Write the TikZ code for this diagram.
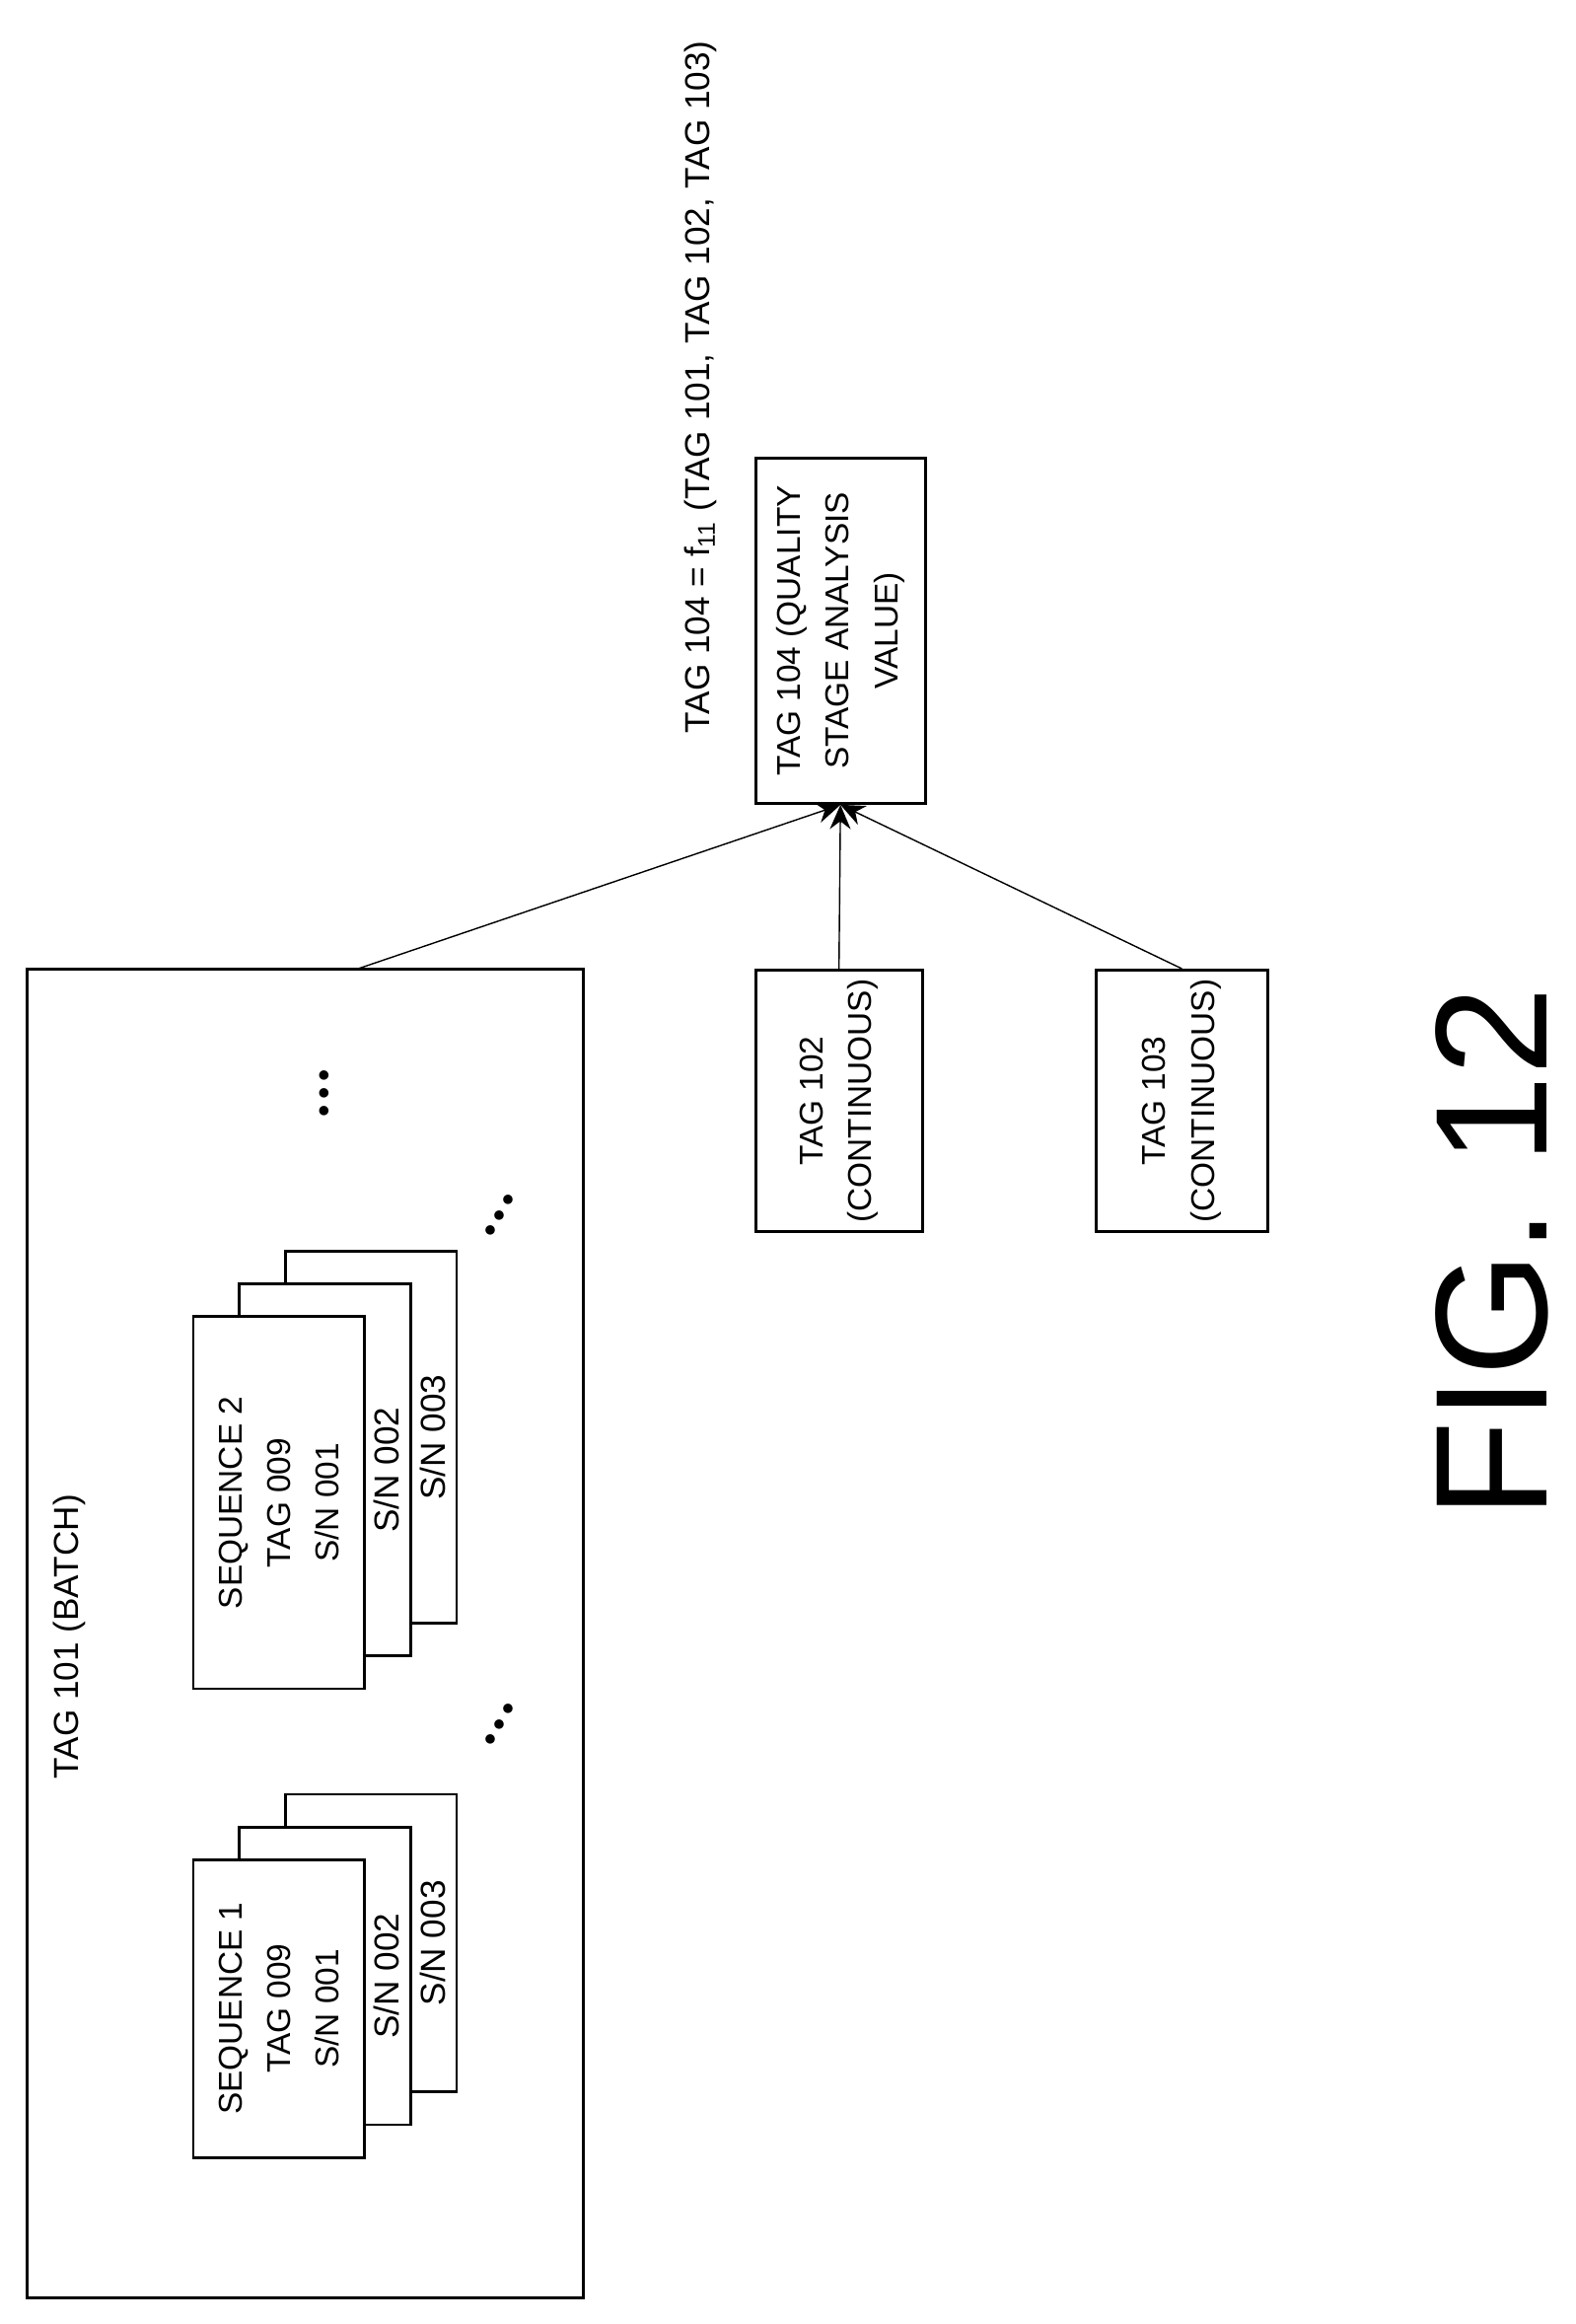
\documentclass[tikz,border=0pt]{standalone}
\usepackage{fontspec}
\setmainfont{Liberation Sans}
\usetikzlibrary{arrows.meta}

\begin{document}
\begin{tikzpicture}[x=0.1508mm,y=-0.1508mm,
    box/.style={draw,thick,fill=white,rotate=90,align=center,inner sep=0pt,font=\fontsize{9.5}{14}\selectfont},
    lbl/.style={rotate=90,font=\fontsize{10}{13}\selectfont},
    link/.style={-{Stealth[length=7pt,width=6pt]}}]
  \useasboundingbox (0,0) rectangle (1059,1562);
  \def\u{0.1508mm}
  % batch tag with its sequences
  \node[box,minimum width=893*\u,minimum height=374*\u] (batch) at (205,1098) {};
  \node[lbl] (batchtitle) at (47,1100) {TAG 101 (BATCH)};
  \foreach \n/\cy/\h in {1/1350/200,2/1010/250}{
    \node[box,minimum width=\h*\u,minimum height=115*\u] (seq\n c) at (249.5,\cy-44) {};
    \node[lbl] (seq\n ct) at (291,\cy-44) {S/N 003};
    \node[box,minimum width=\h*\u,minimum height=115*\u] (seq\n b) at (218.5,\cy-22) {};
    \node[lbl] (seq\n bt) at (260,\cy-22) {S/N 002};
    \node[box,minimum width=\h*\u,minimum height=115*\u] (seq\n a) at (187.5,\cy)
      {SEQUENCE \n\\TAG 009\\S/N 001};
  }
  \node[lbl,rotate=-30] (dotsa) at (338,1160) {\textbullet\,\textbullet\,\textbullet};
  \node[lbl,rotate=-30] (dotsb) at (338,818) {\textbullet\,\textbullet\,\textbullet};
  \node[lbl] (dotsc) at (220,735) {\textbullet\,\textbullet\,\textbullet};
  % continuous tags
  \node[box,minimum width=176*\u,minimum height=112*\u] (tag102) at (564,740) {TAG 102\\(CONTINUOUS)};
  \node[box,minimum width=176*\u,minimum height=115*\u] (tag103) at (794.5,740) {TAG 103\\(CONTINUOUS)};
  % quality stage value
  \node[box,minimum width=232*\u,minimum height=114*\u] (tag104) at (565,424)
    {TAG 104 (QUALITY\\STAGE ANALYSIS\\VALUE)};
  \node[lbl] (formula) at (471,260) {TAG 104 = f\textsubscript{11} (TAG 101, TAG 102, TAG 103)};
  \coordinate (batchtop) at (238,652);
  \draw[link] (batchtop) -- (tag104.west);
  \draw[link] (tag102.east) -- (tag104.west);
  \draw[link] (tag103.east) -- (tag104.west);
  \node[rotate=90,font=\fontsize{46}{50}\selectfont] (fig) at (1003,842) {FIG. 12};
\end{tikzpicture}
\end{document}
